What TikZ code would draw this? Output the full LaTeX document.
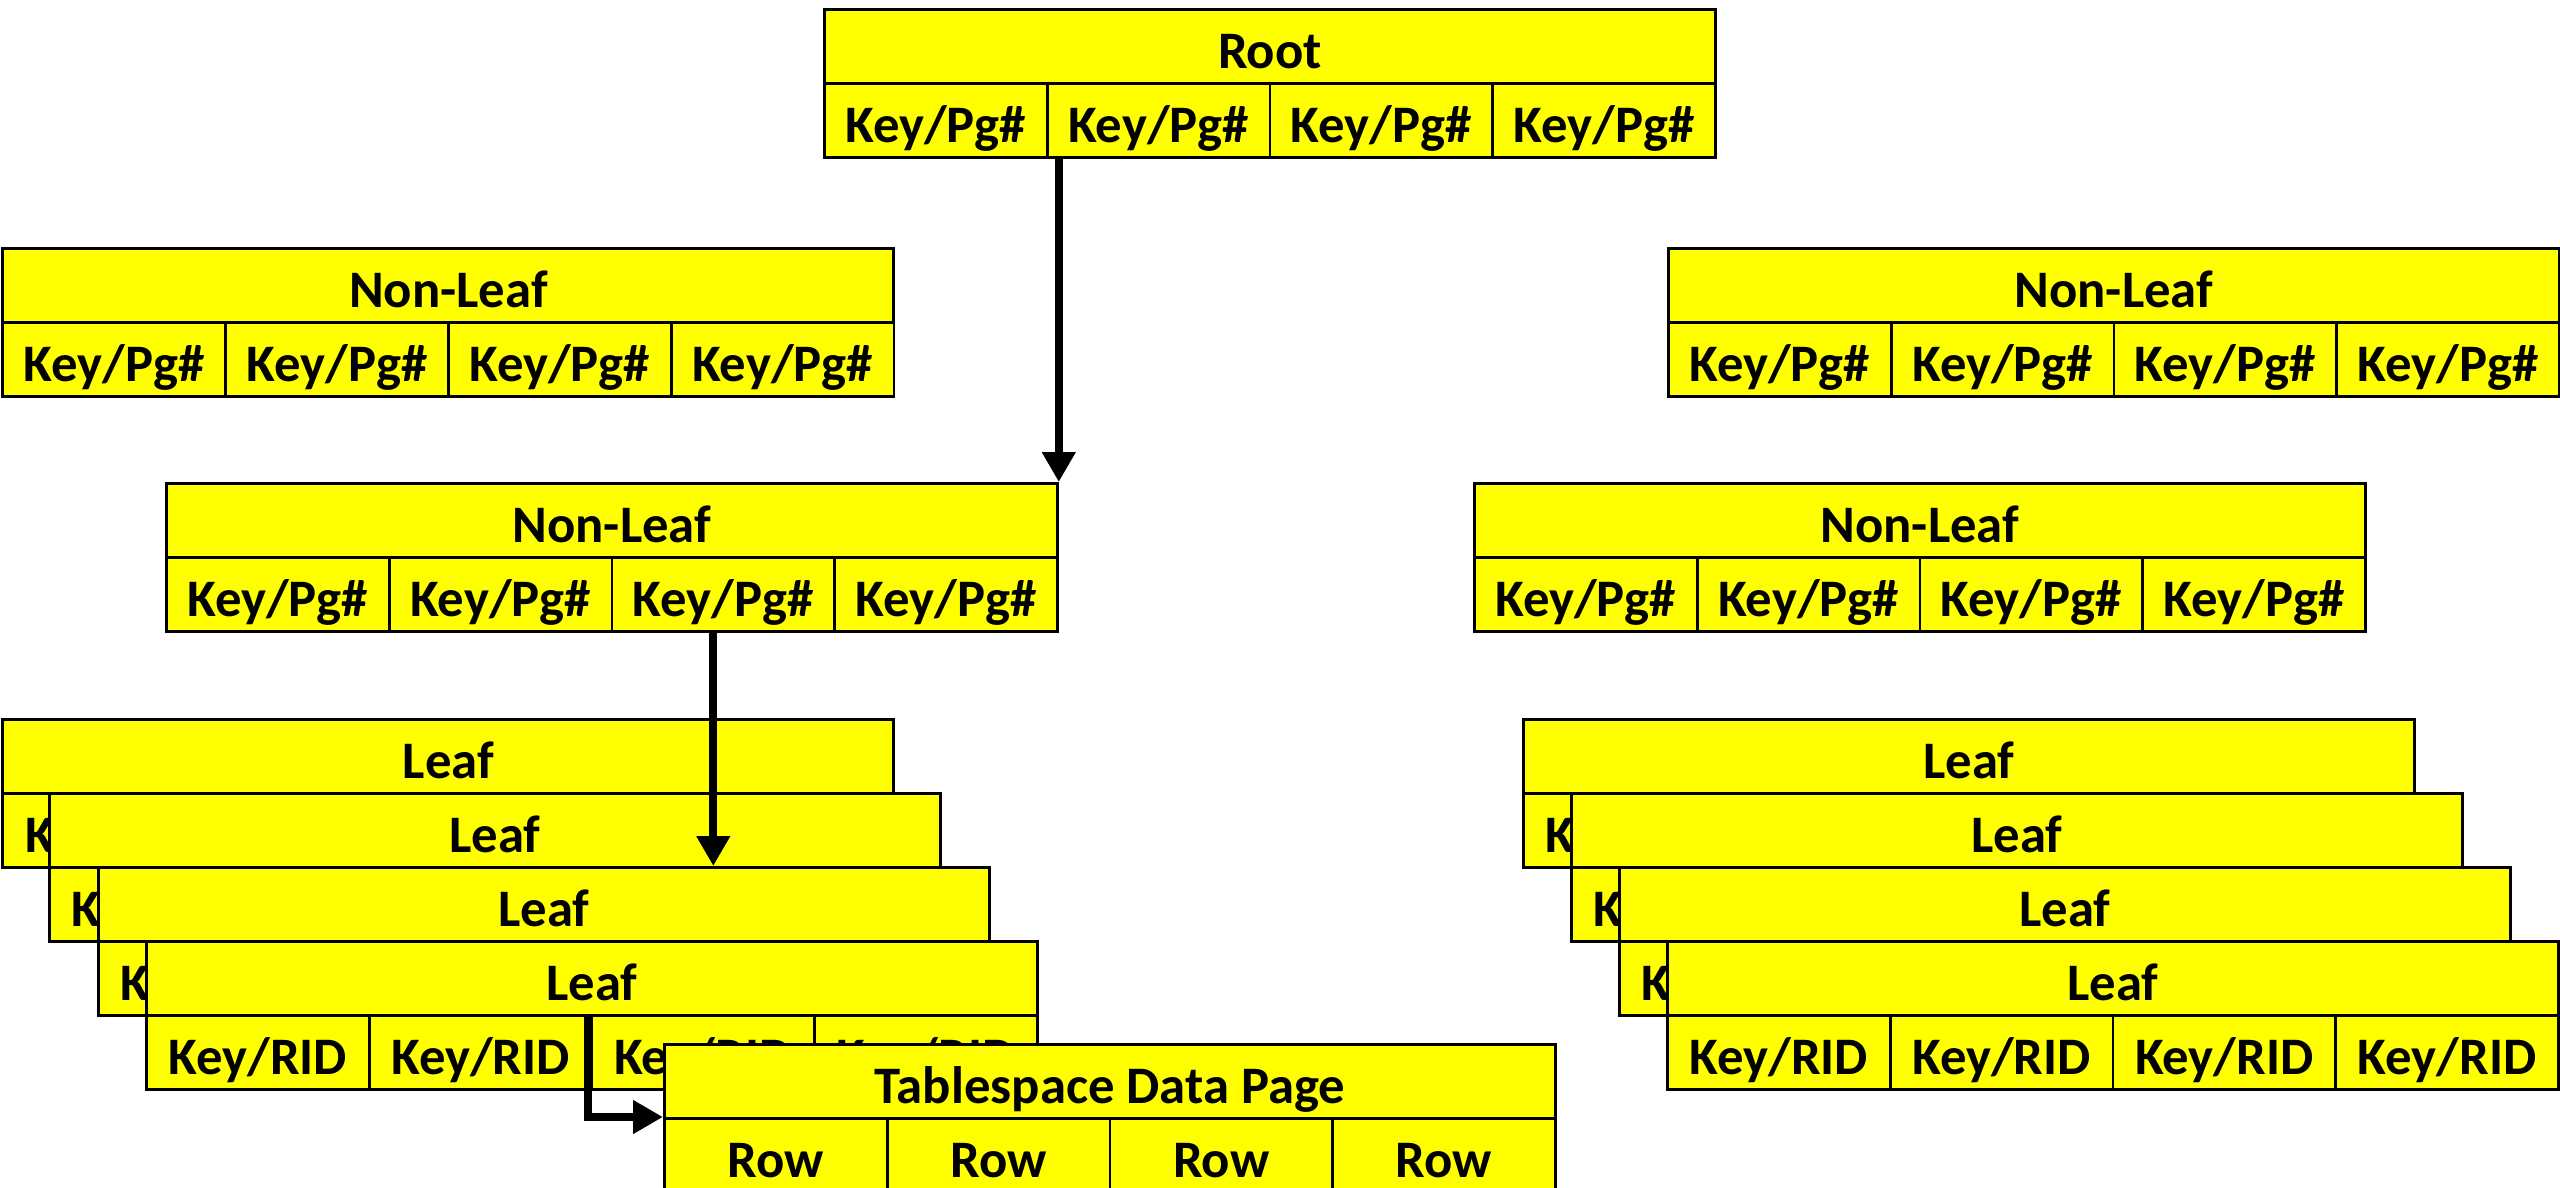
\documentclass[tikz,border=0pt]{standalone}
\usepackage{fontspec}
\setmainfont{Carlito}
\usetikzlibrary{arrows.meta}
\definecolor{pageyellow}{RGB}{255,255,0}

% one unit = one pixel of a 2560 x 1188 canvas, y grows downwards
\tikzset{
  x=0.1mm, y=-0.1mm,
  row/.style={draw=black, line width=0.28mm, fill=pageyellow, inner sep=0pt,
    minimum height=7.4mm, text height=4.4mm, text depth=0mm, anchor=north west,
    font=\fontsize{15pt}{17pt}\selectfont\bfseries},
  hdr/.style={row, minimum width=89.1mm},
  cell/.style={row, minimum width=22.275mm},
  link/.style={line width=0.8mm, -{Triangle[length=3mm,width=3.2mm]}},
}

% a page: title row plus four entry cells
\newcommand\treepage[5]{%
  \node[hdr] (#1) at (#2,#3) {#4};
  \foreach \k in {0,...,3} {
    \node[cell] (#1-\k) at ({#2+222.75*\k},{#3+74}) {#5};
  }
}

\begin{document}
\begin{tikzpicture}
\useasboundingbox (0,0) rectangle (2560,1188);

% root
\treepage{root}{823}{8}{Root}{Key/Pg\#}

% non-leaf level
\treepage{nltl}{1.5}{247}{Non-Leaf}{Key/Pg\#}
\treepage{nltr}{1667}{247}{Non-Leaf}{Key/Pg\#}
\treepage{nlm}{165}{482}{Non-Leaf}{Key/Pg\#}
\treepage{nlr}{1473}{482}{Non-Leaf}{Key/Pg\#}

% leaf stacks
\treepage{lfl1}{1.5}{718}{Leaf}{Key/RID}
\treepage{lfl2}{48}{792}{Leaf}{Key/RID}
\treepage{lfl3}{97}{866}{Leaf}{Key/RID}
\treepage{lfl4}{145}{940}{Leaf}{Key/RID}

\treepage{lfr1}{1522}{718}{Leaf}{Key/RID}
\treepage{lfr2}{1570}{792}{Leaf}{Key/RID}
\treepage{lfr3}{1618}{866}{Leaf}{Key/RID}
\treepage{lfr4}{1666}{940}{Leaf}{Key/RID}

% data page
\treepage{tsp}{663}{1043}{Tablespace Data Page}{Row}

% search path
\draw[link] (nlm.north east |- root-1.south) -- (nlm.north east);
\draw[link] ([xshift=-1mm]nlm-2.south) -- ([xshift=-1mm]nlm-2.south |- lfl3.north);
\draw[link] ([xshift=-0.3mm]lfl4-2.north west) |- (tsp-0.north west);
\end{tikzpicture}
\end{document}
